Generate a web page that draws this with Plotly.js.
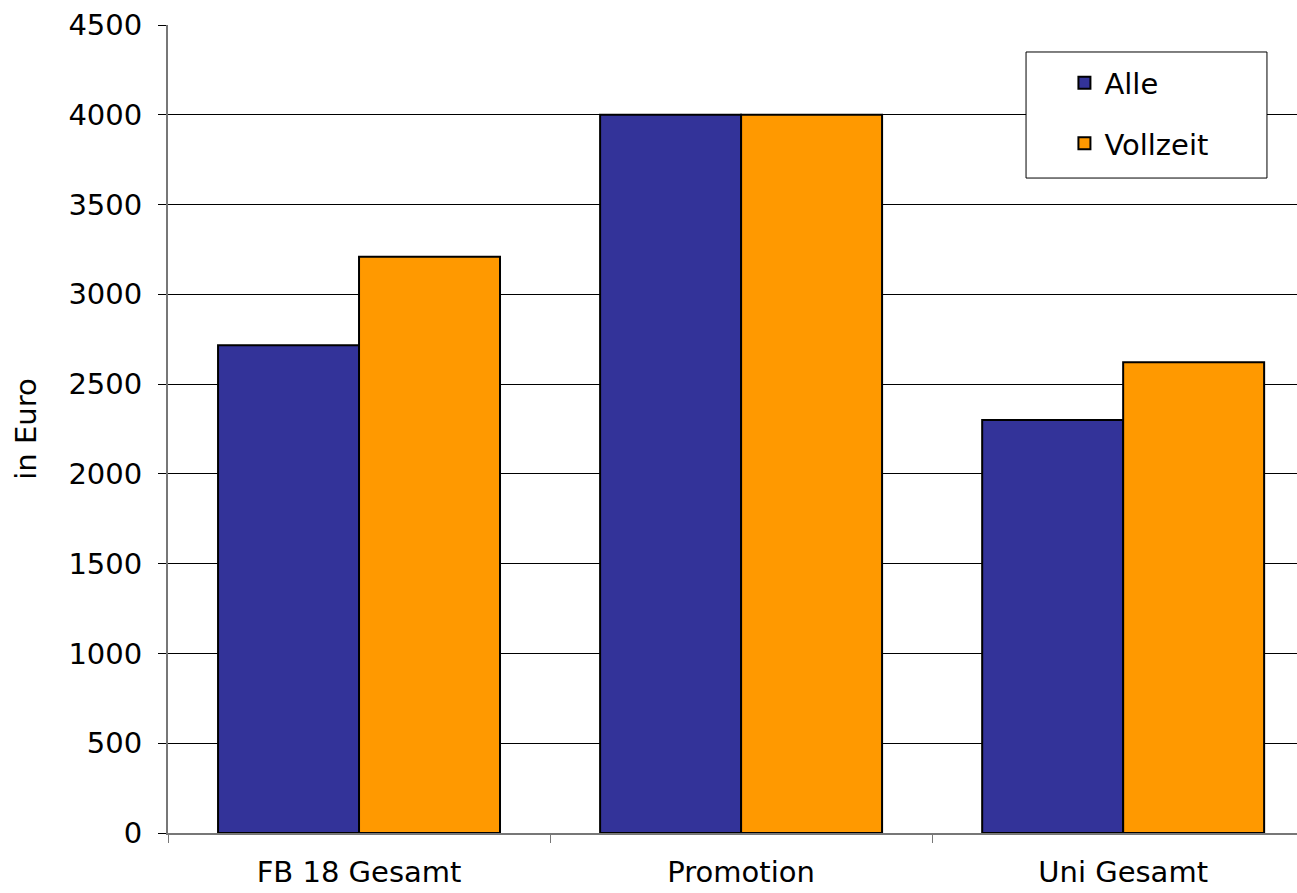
<!DOCTYPE html>
<html>
<head>
<meta charset="utf-8">
<script src="https://cdn.plot.ly/plotly-3.0.1.min.js"></script>
<style>html,body{margin:0;padding:0;background:#fff;}#chart{width:1297px;height:893px;}</style>
</head>
<body>
<div id="chart"></div>
<script>
const categories = ["FB 18 Gesamt", "Promotion", "Uni Gesamt"];
const seriesNames = ["Alle", "Vollzeit"];
const alleValues = [2717, 4000, 2300];
const vollzeitValues = [3210, 4000, 2622];
const yTickVals = [0, 500, 1000, 1500, 2000, 2500, 3000, 3500, 4000, 4500];

const fontFam = "DejaVu Sans, Verdana, sans-serif";
const FS = 29;
const traces = [
  {type: "bar", name: seriesNames[0], x: categories, y: alleValues, legendgroup: "a",
   marker: {color: "#333399", line: {color: "#000", width: 2}}},
  {type: "bar", name: seriesNames[1], x: categories, y: vollzeitValues, legendgroup: "b",
   marker: {color: "#FF9900", line: {color: "#000", width: 2}}}
];
const layout = {
  width: 1297, height: 893,
  margin: {l: 168, r: 0, t: 25, b: 60},
  paper_bgcolor: "#fff", plot_bgcolor: "#fff",
  font: {family: fontFam, size: FS, color: "#000"},
  barmode: "group", bargap: 0.262, bargroupgap: 0,
  xaxis: {type: "category", range: [-0.5, 2.455], tickson: "boundaries",
          ticks: "outside", ticklen: 8, tickcolor: "#777", tickwidth: 1,
          showline: true, linecolor: "#777", linewidth: 2, showgrid: false,
          ticklabelstandoff: 12,
          tickfont: {family: fontFam, size: FS}},
  yaxis: {range: [0, 4500], tickvals: yTickVals, ticks: "outside", ticklen: 8,
          tickcolor: "#000", showline: true, linecolor: "#777", linewidth: 2,
          gridcolor: "#000", gridwidth: 1, zeroline: false,
          ticklabelstandoff: 10,
          tickfont: {family: fontFam, size: FS},
          title: {text: "in Euro", font: {family: fontFam, size: FS}, standoff: 23}},
  shapes: [{type: "rect", xref: "paper", yref: "paper", x0: 0.760, x1: 0.9734, y0: 0.8106, y1: 0.9666,
            line: {color: "#000", width: 1}, fillcolor: "#fff", layer: "above"}],
  showlegend: true,
  legend: {x: 0.794, y: 0.96, xanchor: "left", yanchor: "top",
           bgcolor: "rgba(0,0,0,0)", borderwidth: 0,
           font: {family: fontFam, size: FS}, tracegroupgap: 20,
           itemwidth: 30}
};
Plotly.newPlot("chart", traces, layout, {displayModeBar: false, staticPlot: true});
</script>
</body>
</html>
